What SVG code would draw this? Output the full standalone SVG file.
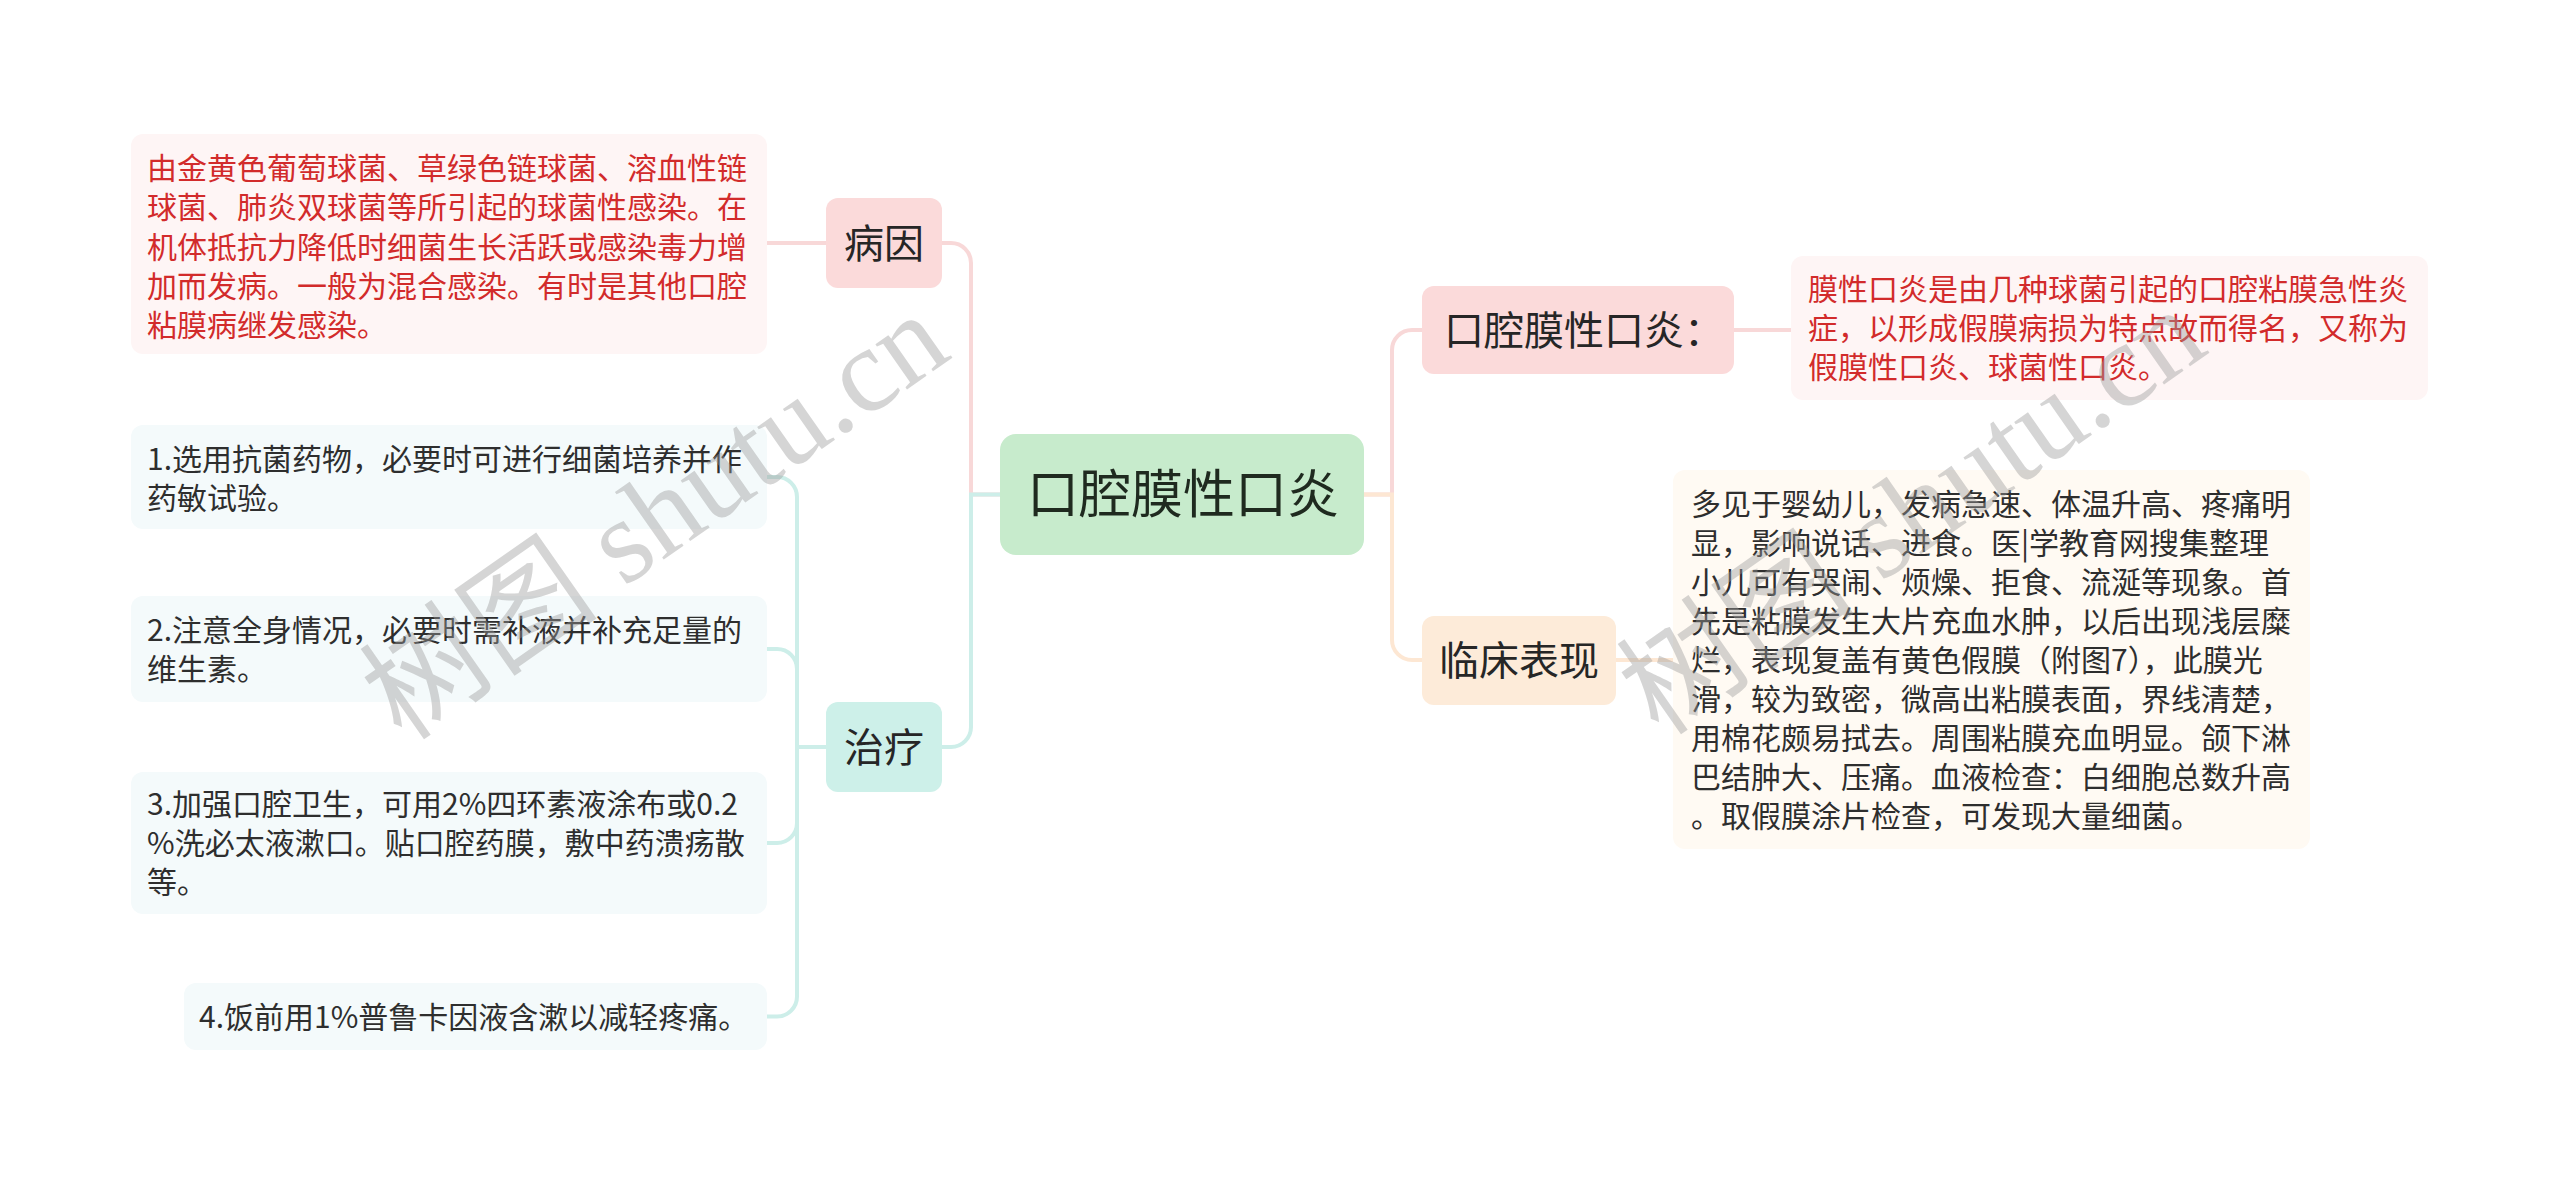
<svg xmlns="http://www.w3.org/2000/svg" width="2560" height="1182" viewBox="0 0 2560 1182">
<defs>
<style>
.t{font-family:"Noto Sans CJK SC","Noto Sans",sans-serif;}
.red{fill:#d22b2b;font-size:30px;}
.dk{fill:#2e2e2e;font-size:30px;}
.lbl{fill:#262626;font-size:40px;}
.ln{fill:none;stroke-width:4;stroke-linecap:round;}
.pk{stroke:#f8d8d8;}
.mt{stroke:#cdeee9;}
.og{stroke:#fde7d3;}
.wm{font-family:"Liberation Serif","Noto Sans CJK SC",serif;font-size:120px;fill:#9a9a9a;fill-opacity:0.42;}
</style>
</defs>
<rect width="2560" height="1182" fill="#ffffff"/>

<g id="connectors">
<path class="ln pk" d="M1000,494.5 H971 V263 A20,20 0 0 0 951,243 H942"/>
<path class="ln mt" d="M1000,494.5 H971 V727 A20,20 0 0 1 951,747 H942"/>
<path class="ln pk" d="M1364,494.5 H1392 V350 A20,20 0 0 1 1412,330 H1422"/>
<path class="ln og" d="M1364,494.5 H1392 V640 A20,20 0 0 0 1412,660 H1422"/>
<path class="ln pk" d="M826,243 H767"/>
<path class="ln pk" d="M1734,330 H1791"/>
<path class="ln og" d="M1616,660 H1673"/>
<path class="ln mt" d="M826,747 H797 V497 A20,20 0 0 0 777,477 H767"/>
<path class="ln mt" d="M826,747 H797 V669 A20,20 0 0 0 777,649 H767"/>
<path class="ln mt" d="M826,747 H797 V823 A20,20 0 0 1 777,843 H767"/>
<path class="ln mt" d="M826,747 H797 V996.5 A20,20 0 0 1 777,1016.5 H767"/>
</g>

<g id="root">
<rect x="1000" y="434" width="364" height="121" rx="16" fill="#c7ebcc"/>
<text class="t" x="1183" y="513" text-anchor="middle" font-size="52" fill="#1f2a1f">口腔膜性口炎</text>
</g>

<g id="bingyin">
<rect x="826" y="198" width="116" height="90" rx="12" fill="#fbdada"/>
<text class="t lbl" x="884" y="258" text-anchor="middle">病因</text>
</g>

<g id="bingyin-text">
<rect x="131" y="134" width="636" height="220" rx="12" fill="#fef5f5"/>
<text class="t red" x="147">
<tspan x="147" y="179">由金黄色葡萄球菌、草绿色链球菌、溶血性链</tspan>
<tspan x="147" y="218">球菌、肺炎双球菌等所引起的球菌性感染。在</tspan>
<tspan x="147" y="257.5">机体抵抗力降低时细菌生长活跃或感染毒力增</tspan>
<tspan x="147" y="297">加而发病。一般为混合感染。有时是其他口腔</tspan>
<tspan x="147" y="336">粘膜病继发感染。</tspan>
</text>
</g>

<g id="zhiliao">
<rect x="826" y="702" width="116" height="90" rx="12" fill="#cdf0e9"/>
<text class="t lbl" x="884" y="762" text-anchor="middle">治疗</text>
</g>

<g id="t1">
<rect x="131" y="425" width="636" height="104" rx="12" fill="#f4fafb"/>
<text class="t dk"><tspan x="147" y="470">1.选用抗菌药物，必要时可进行细菌培养并作</tspan><tspan x="147" y="509">药敏试验。</tspan></text>
</g>
<g id="t2">
<rect x="131" y="596" width="636" height="106" rx="12" fill="#f4fafb"/>
<text class="t dk"><tspan x="147" y="641">2.注意全身情况，必要时需补液并补充足量的</tspan><tspan x="147" y="680">维生素。</tspan></text>
</g>
<g id="t3">
<rect x="131" y="772" width="636" height="142" rx="12" fill="#f4fafb"/>
<text class="t dk"><tspan x="147" y="815">3.加强口腔卫生，可用2%四环素液涂布或0.2</tspan><tspan x="147" y="854">%洗必太液漱口。贴口腔药膜，敷中药溃疡散</tspan><tspan x="147" y="893">等。</tspan></text>
</g>
<g id="t4">
<rect x="184" y="983" width="583" height="67" rx="12" fill="#f4fafb"/>
<text class="t dk" x="199" y="1027.5">4.饭前用1%普鲁卡因液含漱以减轻疼痛。</text>
</g>

<g id="def">
<rect x="1422" y="286" width="312" height="88" rx="12" fill="#fbdada"/>
<text class="t lbl" x="1444" y="345">口腔膜性口炎：</text>
</g>
<g id="def-text">
<rect x="1791" y="256" width="637" height="144" rx="12" fill="#fef5f5"/>
<text class="t red"><tspan x="1808" y="300">膜性口炎是由几种球菌引起的口腔粘膜急性炎</tspan><tspan x="1808" y="339">症，以形成假膜病损为特点故而得名，又称为</tspan><tspan x="1808" y="378">假膜性口炎、球菌性口炎。</tspan></text>
</g>

<g id="clinic">
<rect x="1422" y="616" width="194" height="89" rx="12" fill="#fdebd9"/>
<text class="t lbl" x="1519" y="675" text-anchor="middle">临床表现</text>
</g>
<g id="clinic-text">
<rect x="1673" y="470" width="637" height="379" rx="12" fill="#fffaf3"/>
<text class="t dk">
<tspan x="1691" y="514.5">多见于婴幼儿，发病急速、体温升高、疼痛明</tspan>
<tspan x="1691" y="553.5">显，影响说话、进食。医|学教育网搜集整理</tspan>
<tspan x="1691" y="592.5">小儿可有哭闹、烦燥、拒食、流涎等现象。首</tspan>
<tspan x="1691" y="631.5">先是粘膜发生大片充血水肿，以后出现浅层糜</tspan>
<tspan x="1691" y="670.5">烂，表现复盖有黄色假膜（附图7），此膜光</tspan>
<tspan x="1691" y="709.5">滑，较为致密，微高出粘膜表面，界线清楚，</tspan>
<tspan x="1691" y="748.5">用棉花颇易拭去。周围粘膜充血明显。颌下淋</tspan>
<tspan x="1691" y="787.5">巴结肿大、压痛。血液检查：白细胞总数升高</tspan>
<tspan x="1691" y="826.5">。取假膜涂片检查，可发现大量细菌。</tspan>
</text>
</g>

<g id="watermarks">
<text class="wm" x="661" y="555" text-anchor="middle" transform="rotate(-35 661 525)">树图 shutu.cn</text>
<text class="wm" x="1918" y="550" text-anchor="middle" transform="rotate(-35 1918 520)">树图 shutu.cn</text>
</g>
</svg>
